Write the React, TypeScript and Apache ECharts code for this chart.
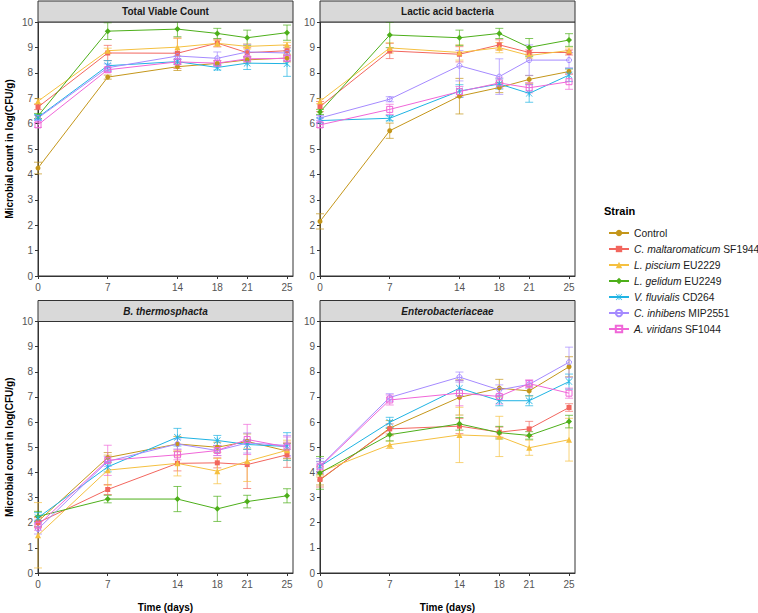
import React, { useEffect, useRef } from "react";
import * as echarts from "echarts";

const days = [0, 7, 14, 18, 21, 25];

const strainItalic = ["", "C. maltaromaticum", "L. piscium", "L. gelidum", "V. fluvialis", "C. inhibens", "A. viridans"];
const strainCode = ["Control", "SF1944", "EU2229", "EU2249", "CD264", "MIP2551", "SF1044"];
const strainNames = strainItalic.map((s, i) => (s ? s + " " + strainCode[i] : strainCode[i]));
const strainColors = ["#C4961A", "#F2665E", "#F5C040", "#4DAF1A", "#1FB3E3", "#A58AFF", "#F066D8"];

const panelTitles = ["Total Viable Count", "Lactic acid bacteria", "B. thermosphacta", "Enterobacteriaceae"];
const panelItalic = [false, false, true, true];

// Means (rows = strains in legend order, columns = days)
const tvcMean = [
  [4.25, 7.83, 8.24, 8.37, 8.51, 8.58],
  [6.65, 8.78, 8.77, 9.17, 8.79, 8.87],
  [6.88, 8.87, 9.01, 9.16, 9.04, 9.1],
  [6.3, 9.64, 9.72, 9.55, 9.38, 9.58],
  [6.25, 8.28, 8.44, 8.21, 8.38, 8.36],
  [6.22, 8.2, 8.66, 8.57, 8.82, 8.78],
  [5.95, 8.12, 8.43, 8.38, 8.55, 8.57],
];
const tvcErr = [
  [0.23, 0.08, 0.15, 0.1, 0.12, 0.15],
  [0.1, 0.3, 0.6, 0.15, 0.2, 0.2],
  [0.1, 0.1, 0.35, 0.12, 0.1, 0.1],
  [0.1, 0.33, 0.3, 0.2, 0.3, 0.3],
  [0.1, 0.2, 0.1, 0.1, 0.25, 0.5],
  [0.1, 0.15, 0.15, 0.25, 0.3, 0.2],
  [0.1, 0.1, 0.1, 0.1, 0.1, 0.1],
];

const labMean = [
  [2.15, 5.72, 7.08, 7.42, 7.74, 8.05],
  [6.67, 8.86, 8.73, 9.1, 8.8, 8.8],
  [6.88, 8.98, 8.8, 8.99, 8.68, 8.88],
  [6.46, 9.49, 9.38, 9.55, 9.0, 9.29],
  [6.12, 6.21, 7.28, 7.56, 7.19, 7.91],
  [6.22, 6.96, 8.28, 7.85, 8.5, 8.5],
  [5.95, 6.56, 7.26, 7.6, 7.41, 7.65],
];
const labErr = [
  [0.3, 0.3, 0.7, 0.2, 0.15, 0.1],
  [0.2, 0.3, 0.3, 0.2, 0.1, 0.1],
  [0.1, 0.2, 0.3, 0.2, 0.1, 0.1],
  [0.1, 0.5, 0.3, 0.2, 0.35, 0.25],
  [0.1, 0.1, 0.25, 0.2, 0.35, 0.25],
  [0.1, 0.1, 0.6, 0.7, 0.6, 0.3],
  [0.1, 0.2, 0.2, 0.2, 0.2, 0.3],
];

const btMean = [
  [2.05, 4.59, 5.13, 5.0, 5.23, 4.85],
  [2.0, 3.32, 4.36, 4.38, 4.31, 4.7],
  [1.5, 4.09, 4.36, 4.05, 4.44, 4.88],
  [2.25, 2.94, 2.94, 2.55, 2.84, 3.07],
  [2.2, 4.22, 5.4, 5.27, 5.11, 5.03],
  [1.75, 4.44, 5.13, 4.87, 5.17, 5.07],
  [1.9, 4.48, 4.7, 4.87, 5.31, 5.01],
];
const btErr = [
  [0.2, 0.2, 0.3, 0.2, 0.3, 0.3],
  [0.2, 0.2, 0.3, 0.2, 0.95, 0.5],
  [1.3, 0.6, 0.5, 0.5, 0.8, 0.4],
  [0.2, 0.15, 0.5, 0.5, 0.25, 0.28],
  [0.2, 0.2, 0.35, 0.2, 0.2, 0.55],
  [0.2, 0.2, 0.2, 0.2, 0.4, 0.4],
  [0.2, 0.6, 0.2, 0.2, 0.6, 0.4],
];

const entMean = [
  [3.7, 5.76, 6.98, 7.35, 7.24, 8.2],
  [3.72, 5.73, 5.84, 5.6, 5.73, 6.58],
  [4.02, 5.1, 5.49, 5.43, 4.98, 5.3],
  [3.98, 5.5, 5.93, 5.58, 5.47, 6.02],
  [4.24, 5.99, 7.35, 6.85, 6.85, 7.61],
  [4.25, 6.98, 7.79, 7.28, 7.5, 8.38],
  [4.22, 6.88, 7.15, 7.02, 7.53, 7.15],
];
const entErr = [
  [0.2, 0.3, 0.7, 0.35, 0.2, 0.4],
  [0.3, 0.2, 0.3, 0.2, 0.3, 0.15],
  [0.2, 0.15, 1.1, 0.8, 0.3, 0.85],
  [0.65, 0.25, 0.25, 0.25, 0.15, 0.25],
  [0.2, 0.2, 0.3, 0.2, 0.2, 0.3],
  [0.3, 0.15, 0.2, 0.2, 0.15, 0.6],
  [0.2, 0.2, 0.5, 0.3, 0.15, 0.2],
];

const panelMeans = [tvcMean, labMean, btMean, entMean];
const panelErrs = [tvcErr, labErr, btErr, entErr];

const starPath =
  "path://M-0.12,-1 L0.12,-1 L0.12,1 L-0.12,1 Z M-0.93,-1.07 L1.07,0.93 L0.93,1.07 L-1.07,-0.93 Z M0.93,-1.07 L1.07,-0.93 L-0.93,1.07 L-1.07,0.93 Z";
const strainSymbols = ["circle", "rect", "triangle", "diamond", starPath, "circle", "rect"];
const strainSymbolSizes = [5, 5, 6, 6, 7, 5, 6];
const strainHollow = [false, false, false, false, false, true, true];

const FONT = "'Liberation Sans', Arial, Helvetica, sans-serif";

const gridBoxes = [
  { left: 38, top: 22 },
  { left: 320, top: 22 },
  { left: 38, top: 321.5 },
  { left: 320, top: 321.5 },
];
const GW = 255;
const GH = 254;

export default function App() {
  const ref = useRef<HTMLDivElement>(null);

  useEffect(() => {
    if (!ref.current) return;
    const chart = echarts.init(ref.current, null, { renderer: "svg" });

    const grid = gridBoxes.map((g) => ({
      left: g.left,
      top: g.top,
      width: GW,
      height: GH,
      show: true,
      borderColor: "#333",
      borderWidth: 1,
      backgroundColor: "#fff",
      containLabel: false,
    }));

    const xAxis = gridBoxes.map((g, i) => ({
      type: "value",
      gridIndex: i,
      min: 0,
      max: 25.6,
      name: i >= 2 ? "Time (days)" : "",
      nameLocation: "middle",
      nameGap: 29,
      nameTextStyle: { fontFamily: FONT, fontSize: 10, fontWeight: "bold", color: "#000" },
      axisLine: { show: true, lineStyle: { color: "#333", width: 1 } },
      axisTick: { show: true, length: 3, customValues: days, lineStyle: { color: "#333" } },
      axisLabel: { customValues: days, margin: 6, fontFamily: FONT, fontSize: 10, color: "#555" },
      splitLine: { show: false },
    }));

    const yAxis = gridBoxes.map((g, i) => ({
      type: "value",
      gridIndex: i,
      min: 0,
      max: 10,
      interval: 1,
      name: i % 2 === 0 ? "Microbial count in log(CFU/g)" : "",
      nameLocation: "middle",
      nameGap: 24,
      nameTextStyle: { fontFamily: FONT, fontSize: 10, fontWeight: "bold", color: "#000" },
      axisLine: { show: true, lineStyle: { color: "#333", width: 1 } },
      axisTick: { show: true, length: 3, lineStyle: { color: "#333" } },
      axisLabel: { margin: 5, fontFamily: FONT, fontSize: 10, color: "#555" },
      splitLine: { show: false },
    }));

    const series: any[] = [];
    panelMeans.forEach((means, p) => {
      means.forEach((row, s) => {
        const color = strainColors[s];
        const errs = panelErrs[p][s];
        series.push({
          type: "custom",
          name: "err-" + p + "-" + s,
          xAxisIndex: p,
          yAxisIndex: p,
          z: 1,
          silent: true,
          clip: false,
          data: row.map((v, k) => [days[k], v - errs[k], v + errs[k]]),
          encode: { x: 0, y: [1, 2] },
          renderItem: (params: any, api: any) => {
            const x = api.value(0);
            const lo = api.coord([x, api.value(1)]);
            const hi = api.coord([x, api.value(2)]);
            const w = 4;
            const st = { stroke: color, lineWidth: 1, opacity: 0.7 };
            return {
              type: "group",
              children: [
                { type: "line", shape: { x1: lo[0], y1: lo[1], x2: hi[0], y2: hi[1] }, style: st },
                { type: "line", shape: { x1: lo[0] - w, y1: lo[1], x2: lo[0] + w, y2: lo[1] }, style: st },
                { type: "line", shape: { x1: hi[0] - w, y1: hi[1], x2: hi[0] + w, y2: hi[1] }, style: st },
              ],
            };
          },
        });
        series.push({
          type: "line",
          name: strainNames[s],
          xAxisIndex: p,
          yAxisIndex: p,
          z: 2,
          data: row.map((v, k) => [days[k], v]),
          symbol: strainSymbols[s],
          symbolSize: strainSymbolSizes[s],
          showAllSymbol: true,
          lineStyle: { color, width: 1 },
          itemStyle: strainHollow[s]
            ? { color: "rgba(255,255,255,0)", borderColor: color, borderWidth: 1 }
            : { color, borderWidth: 0 },
          emphasis: { disabled: true },
        });
      });
    });

    const graphic: any[] = [];
    gridBoxes.forEach((g, i) => {
      const h = 21;
      graphic.push({
        type: "rect",
        shape: { x: g.left, y: g.top - h, width: GW, height: h },
        style: { fill: "#D9D9D9", stroke: "#333", lineWidth: 1 },
        z: 10,
      });
      graphic.push({
        type: "text",
        x: g.left + GW / 2,
        y: g.top - h / 2,
        style: {
          text: panelTitles[i],
          textAlign: "center",
          textVerticalAlign: "middle",
          fontFamily: FONT,
          fontSize: 10,
          fontWeight: "bold",
          fontStyle: panelItalic[i] ? "italic" : "normal",
          fill: "#1a1a1a",
        },
        z: 11,
      });
    });
    graphic.push({
      type: "text",
      x: 604,
      y: 211,
      style: {
        text: "Strain",
        textVerticalAlign: "middle",
        fontFamily: FONT,
        fontSize: 11,
        fontWeight: "bold",
        fill: "#000",
      },
    });

    chart.setOption({
      animation: false,
      backgroundColor: "#fff",
      grid,
      xAxis,
      yAxis,
      series,
      graphic,
      legend: {
        show: true,
        orient: "vertical",
        left: 603,
        top: 223,
        itemWidth: 20,
        itemHeight: 8,
        itemGap: 6,
        selectedMode: false,
        data: strainNames,
        formatter: (name: string) => {
          const i = strainNames.indexOf(name);
          if (!strainItalic[i]) return "{n|" + strainCode[i] + "}";
          return "{i|" + strainItalic[i] + "}{n| " + strainCode[i] + "}";
        },
        textStyle: {
          fontFamily: FONT,
          fontSize: 10.3,
          color: "#1a1a1a",
          rich: {
            i: { fontFamily: FONT, fontSize: 10.3, fontStyle: "italic", color: "#1a1a1a", lineHeight: 14 },
            n: { fontFamily: FONT, fontSize: 10.3, color: "#1a1a1a", lineHeight: 14 },
          },
        },
      },
    });

    return () => chart.dispose();
  }, []);

  return (
    <div
      ref={ref}
      style={{ position: "absolute", left: 0, top: 0, width: 758, height: 613, background: "#fff" }}
    />
  );
}
